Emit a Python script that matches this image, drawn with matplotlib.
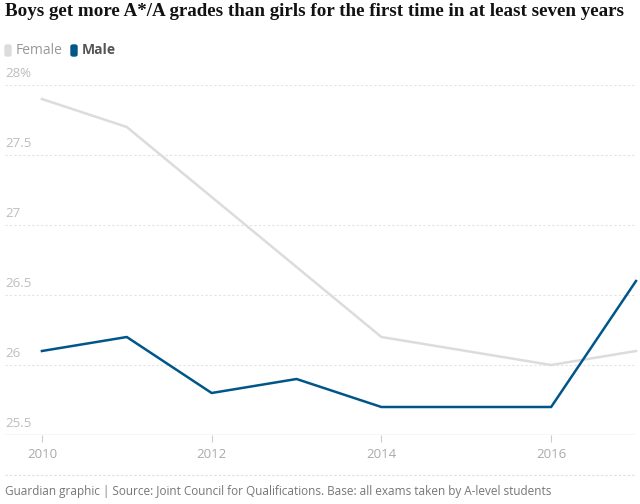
import matplotlib.pyplot as plt
from matplotlib.patches import FancyBboxPatch
from matplotlib.lines import Line2D
import matplotlib.transforms as mtransforms

# Datos
anios = [2010, 2011, 2012, 2013, 2014, 2015, 2016, 2017]
mujeres = [27.9, 27.7, 27.2, 26.7, 26.2, 26.1, 26.0, 26.1]
hombres = [26.1, 26.2, 25.8, 25.9, 25.7, 25.7, 25.7, 26.6]
ticks_y = [25.5, 26, 26.5, 27, 27.5, 28]
etiquetas_y = ['25.5', '26', '26.5', '27', '27.5', '28%']
ticks_x = [2010, 2012, 2014, 2016]

W, H = 640, 504
fig = plt.figure(figsize=(6.4, 5.04), dpi=100)
fig.patch.set_facecolor('white')

ax = fig.add_axes([5 / W, 1 - 435 / H, 631 / W, 350 / H])
ax.set_xlim(2009.565, 2017)
ax.set_ylim(25.5, 28)

for v in ticks_y[1:]:
    ax.axhline(v, color='#e3e3e3', lw=0.8, ls=(0, (2, 2)), zorder=1)
ax.axhline(25.5, color='#d6d6d6', lw=1.0, zorder=1)

ax.plot(anios, mujeres, color='#dcdcdc', lw=1.8, zorder=3, clip_on=False)
ax.plot(anios, hombres, color='#005689', lw=1.8, zorder=4, clip_on=False)

for s in ax.spines.values():
    s.set_visible(False)
ax.set_yticks([])
ax.set_xticks(ticks_x)
ax.set_xticklabels([str(t) for t in ticks_x], fontfamily='Open Sans', fontsize=9.5, color='#aaaaaa')
ax.tick_params(axis='x', length=5, width=0.8, color='#cccccc', pad=4)

trans = mtransforms.blended_transform_factory(ax.transAxes, ax.transData)
for v, lab in zip(ticks_y, etiquetas_y):
    ax.text(0, v + 0.035, lab, transform=trans, ha='left', va='bottom',
            fontfamily='Open Sans', fontsize=9.5, color='#bdbdbd')

# Título
fig.text(5 / W, 1 - 12 / H, 'Boys get more A*/A grades than girls for the first time in at least seven years',
         ha='left', va='center', fontfamily='Liberation Serif', fontweight='bold', fontsize=13.7, color='#121212')

# Leyenda
fig.patches.append(FancyBboxPatch((5 / W, 1 - 56 / H), 6 / W, 11 / H,
                                  boxstyle='round,pad=0,rounding_size=0.003',
                                  transform=fig.transFigure, color='#dcdcdc'))
fig.text(16 / W, 1 - 50 / H, 'Female', ha='left', va='center', fontfamily='Open Sans', fontsize=10, color='#999999')
fig.patches.append(FancyBboxPatch((71 / W, 1 - 56 / H), 6 / W, 11 / H,
                                  boxstyle='round,pad=0,rounding_size=0.003',
                                  transform=fig.transFigure, color='#005689'))
fig.text(82 / W, 1 - 50 / H, 'Male', ha='left', va='center', fontfamily='Open Sans', fontweight='bold',
         fontsize=10, color='#555555')

# Pie
fig.add_artist(Line2D([5 / W, 635 / W], [1 - 475 / H, 1 - 475 / H], transform=fig.transFigure,
                      color='#dddddd', lw=0.8, ls=(0, (2, 2))))
fig.text(5 / W, 1 - 492 / H,
         'Guardian graphic | Source: Joint Council for Qualifications. Base: all exams taken by A-level students',
         ha='left', va='center', fontfamily='Open Sans', fontsize=8.5, color='#767676')

fig.savefig('out.png', dpi=100)
